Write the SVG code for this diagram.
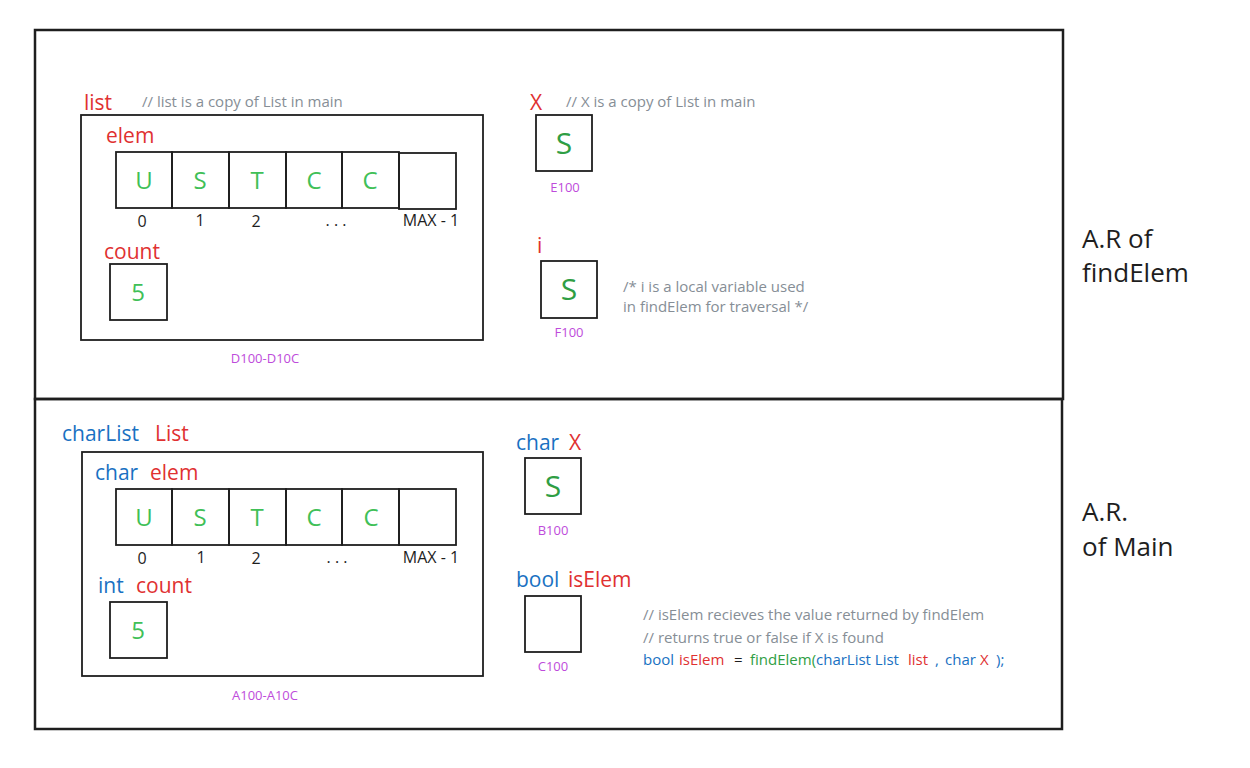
<svg xmlns="http://www.w3.org/2000/svg" width="1250" height="768" viewBox="0 0 1250 768">
<style>
text{font-family:"Open Sans","Noto Sans",sans-serif}
.frame{fill:none;stroke:#1e1e1e;stroke-width:2.5}
.box{fill:none;stroke:#1e1e1e;stroke-width:1.8}
.cell{fill:none;stroke:#1e1e1e;stroke-width:1.8}
.red{fill:#e03131}
.blue{fill:#1971c2}
.lab{font-size:21px}
.cmt{font-size:15px;fill:#868e96}
.val{font-size:24px;fill:#40c057;text-anchor:middle}
.sval{font-size:30px;fill:#2f9e44;text-anchor:middle}
.idx{font-size:16px;fill:#1e1e1e;text-anchor:middle}
.addr{font-size:13px;fill:#be4bdb;text-anchor:middle}
.ar{font-size:26px;fill:#1e1e1e}
</style>
<rect width="1250" height="768" fill="#ffffff"/>

<g id="frame-findElem"><rect class="frame" x="35" y="30" width="1028" height="369"/>
<text class="ar" x="1082" y="248">A.R of</text><text class="ar" x="1082" y="282">findElem</text></g>
<g id="frame-main"><rect class="frame" x="35" y="399" width="1027" height="330"/>
<text class="ar" x="1082" y="521">A.R.</text><text class="ar" x="1082" y="556">of Main</text></g>

<g id="list-copy">
<text class="lab red" x="84" y="110">list</text>
<text class="cmt" x="142" y="107">// list is a copy of List in main</text>
<rect class="box" x="81" y="115" width="402" height="225"/>
<text class="lab red" x="106" y="143">elem</text>
<rect class="cell" x="116" y="152" width="56" height="56"/>
<rect class="cell" x="172" y="152" width="57" height="56"/>
<rect class="cell" x="229" y="152" width="57" height="56"/>
<rect class="cell" x="286" y="152" width="56" height="56"/>
<rect class="cell" x="342" y="152" width="57" height="56"/>
<rect class="cell" x="399" y="153" width="57" height="56"/>
<text class="val" x="144" y="189">U</text>
<text class="val" x="200" y="189">S</text>
<text class="val" x="257" y="189">T</text>
<text class="val" x="314" y="189">C</text>
<text class="val" x="370" y="189">C</text>
<text class="idx" x="142" y="227">0</text>
<text class="idx" x="200" y="226">1</text>
<text class="idx" x="256" y="227">2</text>
<text class="idx" x="336" y="226">. . .</text>
<text class="idx" x="431" y="226">MAX - 1</text>
<text class="lab red" x="104" y="259">count</text>
<rect class="box" x="110" y="264" width="57" height="56"/>
<text class="val" x="138" y="301">5</text>
<text class="addr" x="265" y="363">D100-D10C</text>
</g>

<g id="x-copy">
<text class="lab red" x="530" y="110">X</text>
<text class="cmt" x="566" y="107">// X is a copy of List in main</text>
<rect class="box" x="536" y="115" width="56" height="56"/>
<text class="sval" x="564" y="154">S</text>
<text class="addr" x="565" y="192">E100</text>
</g>

<g id="i-local">
<text class="lab red" x="537" y="253">i</text>
<rect class="box" x="541" y="261" width="56" height="57"/>
<text class="sval" x="569" y="300">S</text>
<text class="cmt" x="623" y="292">/* i is a local variable used</text>
<text class="cmt" x="623" y="312">in findElem for traversal */</text>
<text class="addr" x="569" y="337">F100</text>
</g>

<g id="charList-List">
<text class="lab" x="62" y="441"><tspan class="blue">charList</tspan><tspan class="red" x="155">List</tspan></text>
<rect class="box" x="82" y="452" width="401" height="224"/>
<text class="lab" x="95" y="480"><tspan class="blue">char</tspan><tspan class="red" x="150">elem</tspan></text>
<rect class="cell" x="116" y="489" width="56" height="56"/>
<rect class="cell" x="172" y="489" width="57" height="56"/>
<rect class="cell" x="229" y="489" width="57" height="56"/>
<rect class="cell" x="286" y="489" width="56" height="56"/>
<rect class="cell" x="342" y="489" width="57" height="56"/>
<rect class="cell" x="399" y="489" width="57" height="56"/>
<text class="val" x="144" y="526">U</text>
<text class="val" x="200" y="526">S</text>
<text class="val" x="257" y="526">T</text>
<text class="val" x="314" y="526">C</text>
<text class="val" x="371" y="526">C</text>
<text class="idx" x="142" y="564">0</text>
<text class="idx" x="201" y="563">1</text>
<text class="idx" x="256" y="564">2</text>
<text class="idx" x="337" y="563">. . .</text>
<text class="idx" x="431" y="563">MAX - 1</text>
<text class="lab" x="98" y="593"><tspan class="blue">int</tspan><tspan class="red" x="136">count</tspan></text>
<rect class="box" x="110" y="602" width="57" height="56"/>
<text class="val" x="138" y="639">5</text>
<text class="addr" x="265" y="700">A100-A10C</text>
</g>

<g id="char-X">
<text class="lab" x="516" y="450"><tspan class="blue">char</tspan><tspan class="red" x="569">X</tspan></text>
<rect class="box" x="525" y="458" width="56" height="56"/>
<text class="sval" x="553" y="497">S</text>
<text class="addr" x="553" y="535">B100</text>
</g>

<g id="bool-isElem">
<text class="lab" x="516" y="587"><tspan class="blue">bool</tspan><tspan class="red" x="568">isElem</tspan></text>
<rect class="box" x="525" y="596" width="56" height="56"/>
<text class="addr" x="553" y="671">C100</text>
<text class="cmt" x="643" y="620">// isElem recieves the value returned by findElem</text>
<text class="cmt" x="643" y="643">// returns true or false if X is found</text>
<text class="cmt" x="643" y="665"><tspan class="blue">bool</tspan><tspan class="red" x="679">isElem</tspan><tspan x="734" fill="#1e1e1e">=</tspan><tspan x="750" fill="#2f9e44">findElem(</tspan><tspan class="blue" x="816">charList List</tspan><tspan class="red" x="908">list</tspan><tspan class="blue" x="935">,</tspan><tspan class="blue" x="945">char</tspan><tspan class="red" x="980">X</tspan><tspan class="blue" x="996">);</tspan></text>
</g>
</svg>
